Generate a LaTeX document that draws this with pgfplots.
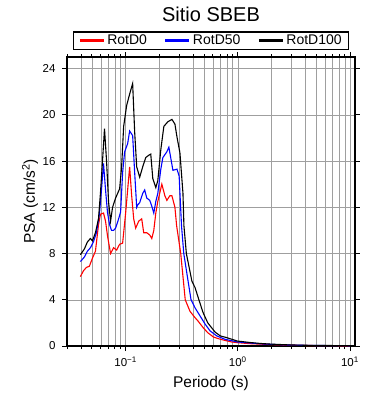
\documentclass[border=0pt]{standalone}
\usepackage{pgfplots}
\pgfplotsset{compat=1.18}
\usepackage{fontspec}
\setmainfont{Liberation Sans}
\begin{document}
\begin{tikzpicture}
\path[use as bounding box] (-67pt,-54pt) rectangle (323pt,346pt);
\begin{axis}[
  scale only axis, width=288pt, height=289pt,
  xmode=log, log basis x=10,
  xmin=0.03, xmax=11.1, ymin=0, ymax=25,
  xtick={0.1,1,10},
  xticklabels={{10\textsuperscript{−1}},{10\textsuperscript{0}},{10\textsuperscript{1}}},
  minor xtick={0.03,0.04,0.05,0.06,0.07,0.08,0.09,0.2,0.3,0.4,0.5,0.6,0.7,0.8,0.9,2,3,4,5,6,7,8,9},
  ytick={0,4,...,24},
  xmajorgrids, xminorgrids, ymajorgrids,
  major grid style={gray!75, line width=0.5pt},
  minor grid style={gray!75, line width=0.5pt},
  tick align=outside,
  major tick length=5pt, minor tick length=3pt,
  every tick/.style={black, line width=0.8pt},
  axis line style={line width=1.6pt},
  /pgf/number format/assume math mode=true,
  ticklabel style={font=\fontsize{11.5}{13}\selectfont},
  xticklabel shift=2pt, yticklabel shift=3pt,
  xlabel={Periodo (s)}, ylabel={PSA (cm/s\textsuperscript{2})},
  label style={font=\fontsize{15.5}{18}\selectfont},
  xlabel style={at={(axis description cs:0.5,-0.145)}, anchor=base},
  ylabel style={at={(axis description cs:-0.1285,0.5)}, anchor=center},
  title={Sitio SBEB},
  every axis title shift=0pt,
  title style={at={(axis description cs:0.5,1.122)}, anchor=base, font=\fontsize{20}{24}\selectfont},
  legend style={at={(axis description cs:0.5,1.024)}, anchor=south, legend columns=3,
    draw=black, line width=1.5pt, font=\fontsize{14}{16}\selectfont,
    inner xsep=5pt, inner ysep=1pt,
    /tikz/every even column/.append style={column sep=15pt}},
  legend image code/.code={\draw[#1, line width=3pt] (0pt,0pt) -- (24pt,0pt);},
]
\addplot[red, line width=1.1pt] coordinates {
(0.0395,6.0) (0.0420,6.5) (0.0447,6.8) (0.0475,6.9) (0.0506,7.6) (0.0538,8.2) (0.0573,10.5) (0.0597,11.4) (0.0635,11.5) (0.0662,10.8) (0.0690,9.5) (0.0734,8.0) (0.0781,8.5) (0.0831,8.3) (0.0884,8.8) (0.0940,8.9) (0.1,11.5) (0.1042,13.5) (0.1086,15.5) (0.1132,13.0) (0.1180,11.0) (0.1229,10.2) (0.1308,10.8) (0.1391,11.0) (0.1450,9.8) (0.1543,9.8) (0.1641,9.6) (0.1711,9.3) (0.1783,10.0) (0.1858,11.5) (0.1936,12.5) (0.2103,14.0) (0.2238,13.0) (0.2332,12.6) (0.2481,13.0) (0.2586,13.0) (0.2751,12.0) (0.285,10.4) (0.31,8.0) (0.34,4.0) (0.375,3.0) (0.416,2.45) (0.443,2.15) (0.49,1.6) (0.54,1.15) (0.606,0.78) (0.70,0.58) (0.88,0.35) (0.99,0.29) (1.294,0.2) (2.0,0.12) (2.96,0.07) (4.47,0.04) (10,0.02)
};
\addlegendentry{RotD0}
\addplot[blue, line width=1.1pt] coordinates {
(0.0395,7.3) (0.0429,7.7) (0.0456,8.2) (0.0485,8.5) (0.0516,9.0) (0.0549,9.8) (0.0585,11.5) (0.0609,13.5) (0.0635,15.8) (0.0662,13.5) (0.0690,11.5) (0.0719,10.5) (0.0749,10.0) (0.0781,10.0) (0.0814,10.2) (0.0866,11.0) (0.0902,11.6) (0.0940,15.0) (0.0980,16.8) (0.1042,17.5) (0.1086,18.6) (0.1155,18.2) (0.1204,15.0) (0.1255,12.0) (0.1281,12.2) (0.1335,12.4) (0.1420,13.2) (0.1480,13.5) (0.1543,12.8) (0.1641,12.6) (0.1711,12.1) (0.1783,11.5) (0.1858,12.5) (0.1936,13.2) (0.2060,15.3) (0.2147,16.3) (0.2332,16.8) (0.2430,17.2) (0.2640,15.2) (0.2870,15.3) (0.3000,14.7) (0.315,10.4) (0.33,8.0) (0.362,5.5) (0.383,4.0) (0.416,3.3) (0.461,2.6) (0.511,1.9) (0.567,1.3) (0.65,0.87) (0.77,0.58) (0.99,0.35) (1.294,0.26) (1.592,0.19) (2.0,0.14) (2.96,0.08) (4.47,0.05) (6.75,0.035) (10,0.025)
};
\addlegendentry{RotD50}
\addplot[black, line width=1.1pt] coordinates {
(0.0395,7.9) (0.0429,8.4) (0.0456,9.0) (0.0485,9.3) (0.0506,9.1) (0.0538,9.8) (0.0573,11.0) (0.0597,13.3) (0.0622,16.0) (0.0648,18.8) (0.0676,16.0) (0.0704,12.5) (0.0734,10.8) (0.0765,12.0) (0.0814,12.8) (0.0884,13.6) (0.0921,15.5) (0.0960,19.0) (0.1021,20.8) (0.1086,21.8) (0.1155,22.7) (0.1204,18.5) (0.1255,15.5) (0.1335,14.6) (0.1420,15.5) (0.1511,16.3) (0.1608,16.5) (0.1675,16.6) (0.1746,14.5) (0.1858,13.7) (0.1936,14.3) (0.2060,17.0) (0.2192,19.0) (0.2381,19.4) (0.2586,19.6) (0.2751,19.2) (0.2868,18.1) (0.3050,16.7) (0.3245,13.2) (0.331,10.4) (0.348,8.0) (0.39,5.6) (0.416,5.05) (0.45,4.0) (0.49,2.9) (0.54,2.0) (0.628,1.2) (0.70,0.87) (0.80,0.72) (0.99,0.43) (1.294,0.3) (1.592,0.22) (2.0,0.16) (2.96,0.09) (4.47,0.055) (6.75,0.04) (10,0.03)
};
\addlegendentry{RotD100}
\end{axis}
\end{tikzpicture}
\end{document}
